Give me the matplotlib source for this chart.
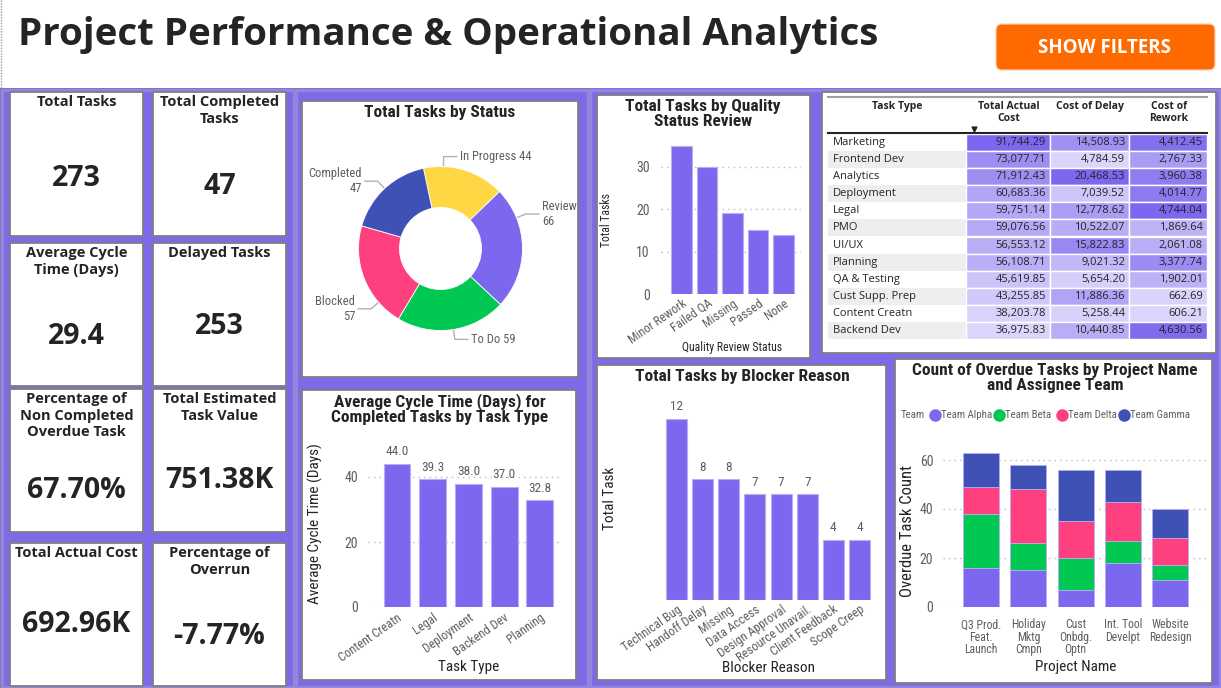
import numpy as np
import matplotlib
matplotlib.use('Agg')
import matplotlib.pyplot as plt
from matplotlib.patches import Rectangle, FancyBboxPatch
from matplotlib.colors import LinearSegmentedColormap, Normalize

W, H = 1221, 688

# ---------------- data ----------------
kpi_titles = ['Total Tasks', 'Total Completed\nTasks', 'Average Cycle\nTime (Days)', 'Delayed Tasks',
              'Percentage of\nNon Completed\nOverdue Task', 'Total Estimated\nTask Value',
              'Total Actual Cost', 'Percentage of\nOverrun']
kpi_values = ['273', '47', '29.4', '253', '67.70%', '751.38K', '692.96K', '-7.77%']

status_names = ['In Progress', 'Review', 'To Do', 'Blocked', 'Completed']
status_counts = [44, 66, 59, 57, 47]

quality_status = ['Minor Rework', 'Failed QA', 'Missing', 'Passed', 'None']
quality_tasks = [35, 30, 19, 15, 14]

cycle_task_types = ['Content Creatn', 'Legal', 'Deployment', 'Backend Dev', 'Planning']
cycle_days = [44.0, 39.3, 38.0, 37.0, 32.8]

blocker_reasons = ['Technical Bug', 'Handoff Delay', 'Missing', 'Data Access', 'Design Approval',
                   'Resource Unavail.', 'Client Feedback', 'Scope Creep']
blocker_tasks = [12, 8, 8, 7, 7, 7, 4, 4]

projects = ['Q3 Prod.\nFeat.\nLaunch', 'Holiday\nMktg\nCmpn', 'Cust\nOnbdg.\nOptn',
            'Int. Tool\nDevelpt', 'Website\nRedesign']
teams = ['Team Alpha', 'Team Beta', 'Team Delta', 'Team Gamma']
overdue_alpha = [16, 15, 7, 18, 11]
overdue_beta = [22, 11, 13, 9, 6]
overdue_delta = [11, 22, 15, 16, 11]
overdue_gamma = [14, 10, 21, 13, 12]

table_headers = ['Task Type', 'Total Actual\nCost', 'Cost of Delay', 'Cost of\nRework']
table_types = ['Marketing', 'Frontend Dev', 'Analytics', 'Deployment', 'Legal', 'PMO', 'UI/UX',
               'Planning', 'QA & Testing', 'Cust Supp. Prep', 'Content Creatn', 'Backend Dev']
table_actual = [91744.29, 73077.71, 71912.43, 60683.36, 59751.14, 59076.56, 56553.12,
                56108.71, 45619.85, 43255.85, 38203.78, 36975.83]
table_delay = [14508.93, 4784.59, 20468.53, 7039.52, 12778.62, 10522.07, 15822.83,
               9021.32, 5654.20, 11886.36, 5258.44, 10440.85]
table_rework = [4412.45, 2767.33, 3960.38, 4014.77, 4744.04, 1869.64, 2061.08,
                3377.74, 1902.01, 662.69, 606.21, 4630.56]

# ---------------- style ----------------
PURPLE = '#7B68EE'
GREEN = '#00C853'
PINK = '#FF407F'
NAVY = '#3F51B5'
YELLOW = '#FFD643'
DARK = '#252423'
GRAY = '#605E5C'
BAR_EDGE = '#B8AEF6'
COND = ['Roboto Condensed', 'Roboto', 'DejaVu Sans']
SEGOE = ['Open Sans', 'DejaVu Sans']
plt.rcParams['font.family'] = COND
TITLE_SIZE = 12.5

fig = plt.figure(figsize=(W / 100, H / 100), dpi=100)
fig.patch.set_facecolor('white')
bg = fig.add_axes([0, 0, 1, 1])
bg.set_xlim(0, W)
bg.set_ylim(H, 0)
bg.axis('off')


def ax_at(x0, y0, x1, y1):
    a = fig.add_axes([x0 / W, 1 - y1 / H, (x1 - x0) / W, (y1 - y0) / H])
    a.set_facecolor('none')
    a.set_zorder(2)
    return a


def card(x0, y0, x1, y1):
    bg.add_patch(Rectangle((x0, y0), x1 - x0, y1 - y0, fc='white', ec='#7F7F7F', lw=1.3, zorder=2))


def bar_style(a, grid=True):
    for s in a.spines.values():
        s.set_visible(False)
    a.tick_params(length=0, colors=GRAY, labelsize=9)
    if grid:
        a.yaxis.grid(True, ls=(0, (1, 3)), color='#BDBBB9', lw=1)
    a.set_axisbelow(True)


# header area
bg.plot([1, 1], [0, H], ls=(0, (1, 1)), color='#9a9a9a', lw=1)
title = bg.text(18, 35, 'Project Performance & Operational Analytics', fontsize=28,
                fontweight='bold', family=SEGOE, color=DARK, va='center', ha='left')
bg.add_patch(FancyBboxPatch((996, 24), 219, 46, boxstyle='round,pad=0,rounding_size=6',
                            fc='#FF6A00', ec='#FFD2B0', lw=0.8, zorder=2))
bg.text(1105, 48, 'SHOW FILTERS', color='white', fontsize=13.5, fontweight='bold',
        family=SEGOE, ha='center', va='center', zorder=3)

# purple panels
bg.add_patch(Rectangle((0, 88), W, H - 88, fc='#7C6AE6', ec='none', zorder=0))
for x0, x1 in [(1.5, 294), (296, 588), (590, 1219.5)]:
    bg.add_patch(Rectangle((x0, 89.5), x1 - x0, H - 91, fc='none', ec='#9185DC', lw=2.5, zorder=1))

# ---------------- KPI cards ----------------
kpi_cols = [(10, 143), (153, 286)]
kpi_rows = [(92, 236), (243, 386), (389, 532), (543, 686)]
value_dy = [86, 94, 93, 83, 101, 92, 82, 93]
for k, (ttl, val) in enumerate(zip(kpi_titles, kpi_values)):
    x0, x1 = kpi_cols[k % 2]
    y0, y1 = kpi_rows[k // 2]
    card(x0, y0, x1, y1)
    xc = (x0 + x1) / 2
    bg.text(xc, y0 + 3, ttl, ha='center', va='top', fontsize=10.5, fontweight='bold',
            family=SEGOE, color=DARK, linespacing=1.25, zorder=3)
    bg.text(xc, y0 + value_dy[k], val, ha='center', va='center', fontsize=20.5,
            fontweight='bold', family=SEGOE, color=DARK, zorder=3)

# ---------------- donut ----------------
card(302, 101, 578, 377)
bg.text(440, 112, 'Total Tasks by Status', ha='center', va='center', fontsize=TITLE_SIZE,
        fontweight='bold', color=DARK, zorder=3)
cx, cy, r = 440.5, 248.5, 82
axd = ax_at(cx - r, cy - r, cx + r, cy + r)
status_colors = [YELLOW, PURPLE, GREEN, PINK, NAVY]
axd.pie(status_counts, colors=status_colors, startangle=102, counterclock=False, radius=1,
        wedgeprops=dict(width=0.5, edgecolor='white', linewidth=0.6))
axd.set_xlim(-1, 1)
axd.set_ylim(-1, 1)
leader_angles = [88, 22, -81, 221, 133]
two_line = [False, True, False, True, True]
for name, cnt, ang, wrap in zip(status_names, status_counts, leader_angles, two_line):
    a = np.deg2rad(ang)
    side = 1 if np.cos(a) >= 0 else -1
    p0 = (cx + (r + 1) * np.cos(a), cy - (r + 1) * np.sin(a))
    p1 = (cx + (r + 10) * np.cos(a), cy - (r + 10) * np.sin(a))
    p2 = (p1[0] + side * 13, p1[1])
    bg.plot([p0[0], p1[0], p2[0]], [p0[1], p1[1], p2[1]], color='#B3B0AD', lw=1, zorder=3)
    lab = f'{name}\n{cnt}' if wrap else f'{name} {cnt}'
    bg.text(p2[0] + side * 3, p1[1], lab, ha='left' if side > 0 else 'right', va='center',
            fontsize=9, color=GRAY, linespacing=1.2, zorder=3)

# ---------------- quality status ----------------
card(597, 95, 810, 358)
bg.text(703, 114, 'Total Tasks by Quality\nStatus Review', ha='center', va='center',
        fontsize=TITLE_SIZE, fontweight='bold', color=DARK, linespacing=1.05, zorder=3)
axq = ax_at(661, 294 - 36 * 4.24, 801, 294)
axq.bar(range(len(quality_tasks)), quality_tasks, width=0.8, color=PURPLE, edgecolor=BAR_EDGE, lw=0.8)
axq.set_xlim(-0.8, 4.69)
axq.set_ylim(0, 36)
axq.set_yticks([0, 10, 20, 30])
bar_style(axq)
axq.tick_params(axis='y', pad=8, labelsize=10)
axq.set_xticks(range(len(quality_status)))
axq.set_xticklabels(quality_status, rotation=35, ha='right', rotation_mode='anchor')
axq.tick_params(axis='x', pad=2)
bg.text(607, 220, 'Total Tasks', rotation=90, ha='center', va='center', fontsize=8.5, color=DARK, zorder=3)
bg.text(732, 347, 'Quality Review Status', ha='center', va='center', fontsize=8.5, color=DARK, zorder=3)

# ---------------- cost table ----------------
card(822, 92, 1216, 353)
bg.plot([828, 1207], [97, 97], color='#A0A0A0', lw=1.5, zorder=3)
hdr_x = [897, 1009, 1090, 1169]
for hx, ht in zip(hdr_x, table_headers):
    bg.text(hx, 101, ht, ha='center', va='top', fontsize=7.5, fontweight='bold',
            family=SEGOE, color=DARK, linespacing=1.15, zorder=4)
bg.plot([974], [129], marker='v', ms=3.5, color=DARK, zorder=4)
bg.plot([828, 1207], [133, 133], color=DARK, lw=1.5, zorder=4)
cmap = LinearSegmentedColormap.from_list('pbi', ['#DAD5FA', PURPLE])
row_h = (339 - 134) / len(table_types)
num_cols = [(966, 1050, table_actual), (1050, 1129, table_delay), (1129, 1207, table_rework)]
for i, name in enumerate(table_types):
    y0 = 134 + i * row_h
    bg.add_patch(Rectangle((828, y0), 966 - 828, row_h, fc='white' if i % 2 == 0 else '#EEEEEE',
                           ec='none', zorder=3))
    bg.text(833, y0 + row_h / 2, name, ha='left', va='center', fontsize=8, family=SEGOE,
            color=DARK, zorder=4)
    for x0, x1, vals in num_cols:
        norm = Normalize(min(vals), max(vals))
        bg.add_patch(Rectangle((x0, y0), x1 - x0, row_h, fc=cmap(norm(vals[i])), ec='white',
                               lw=1, zorder=3))
        bg.text(x1 - 4, y0 + row_h / 2, f'{vals[i]:,.2f}', ha='right', va='center', fontsize=8,
                family=SEGOE, color=DARK, zorder=4)

# ---------------- avg cycle time ----------------
card(302, 390, 576, 680)
bg.text(440, 409, 'Average Cycle Time (Days) for\nCompleted Tasks by Task Type', ha='center',
        va='center', fontsize=TITLE_SIZE, fontweight='bold', color=DARK, linespacing=1.05, zorder=3)
axc = ax_at(368, 607 - 51 * 3.25, 562, 607)
axc.bar(range(len(cycle_days)), cycle_days, width=0.75, color=PURPLE, edgecolor=BAR_EDGE, lw=0.8)
axc.set_xlim(-0.81, 4.62)
axc.set_ylim(0, 51)
axc.set_yticks([0, 20, 40])
bar_style(axc)
axc.tick_params(axis='y', pad=7, labelsize=10)
axc.set_xticks(range(len(cycle_task_types)))
axc.set_xticklabels(cycle_task_types, rotation=35, ha='right', rotation_mode='anchor')
axc.tick_params(axis='x', pad=3)
for i, v in enumerate(cycle_days):
    axc.annotate(f'{v:.1f}', (i, v), xytext=(0, 4), textcoords='offset points', ha='center',
                 va='bottom', fontsize=9.5, color=GRAY, annotation_clip=False)
bg.text(315, 524, 'Average Cycle Time (Days)', rotation=90, ha='center', va='center',
        fontsize=11, color=DARK, zorder=3)
bg.text(469, 667, 'Task Type', ha='center', va='center', fontsize=11, color=DARK, zorder=3)

# ---------------- blocker reason ----------------
card(597, 365, 886, 680)
bg.text(742, 376, 'Total Tasks by Blocker Reason', ha='center', va='center', fontsize=TITLE_SIZE,
        fontweight='bold', color=DARK, zorder=3)
axb = ax_at(663.4, 600 - 13.5 * 15.08, 872.6, 600)
axb.bar(range(len(blocker_tasks)), blocker_tasks, width=0.8, color=PURPLE, edgecolor=BAR_EDGE, lw=0.8)
axb.set_xlim(-0.5, len(blocker_tasks) - 0.5)
axb.set_ylim(0, 13.5)
bar_style(axb, grid=False)
axb.set_yticks([])
axb.set_xticks(range(len(blocker_reasons)))
axb.set_xticklabels(blocker_reasons, rotation=35, ha='right', rotation_mode='anchor')
axb.tick_params(axis='x', pad=2)
for i, v in enumerate(blocker_tasks):
    axb.annotate(f'{v}', (i, v), xytext=(0, 4), textcoords='offset points', ha='center',
                 va='bottom', fontsize=9.5, color=GRAY, annotation_clip=False)
bg.text(610, 498, 'Total Task', rotation=90, ha='center', va='center', fontsize=11, color=DARK, zorder=3)
bg.text(768, 668, 'Blocker Reason', ha='center', va='center', fontsize=11, color=DARK, zorder=3)

# ---------------- overdue stacked ----------------
card(895, 359, 1212, 683)
bg.text(1055, 378, 'Count of Overdue Tasks by Project Name\nand Assignee Team', ha='center',
        va='center', fontsize=TITLE_SIZE, fontweight='bold', color=DARK, linespacing=1.05, zorder=3)
team_colors = [PURPLE, GREEN, PINK, NAVY]
bg.text(901, 415, 'Team', ha='left', va='center', fontsize=7.8, color=GRAY, zorder=3)
legend_x = [935, 999, 1062, 1124]
for lx, tn, tc in zip(legend_x, teams, team_colors):
    bg.plot([lx], [415], 'o', ms=8, color=tc, zorder=3)
    bg.text(lx + 6, 415, tn, ha='left', va='center', fontsize=7.8, color=GRAY, zorder=3)
axo = ax_at(943, 607 - 68 * 2.45, 1207, 607)
bottom = np.zeros(len(projects))
for vals, tc in zip([overdue_alpha, overdue_beta, overdue_delta, overdue_gamma], team_colors):
    axo.bar(range(len(projects)), vals, bottom=bottom, width=0.76, color=tc, edgecolor=BAR_EDGE, lw=0.6)
    bottom += np.array(vals)
axo.set_xlim(-0.805, 4.78)
axo.set_ylim(0, 68)
axo.set_yticks([0, 20, 40, 60])
bar_style(axo)
axo.tick_params(axis='y', pad=7, labelsize=10)
axo.set_xticks(range(len(projects)))
axo.set_xticklabels(projects, linespacing=0.95)
axo.tick_params(axis='x', pad=8, labelsize=8.5)
bg.text(908, 531, 'Overdue Task Count', rotation=90, ha='center', va='center', fontsize=12,
        color=DARK, zorder=3)
bg.text(1076, 667, 'Project Name', ha='center', va='center', fontsize=11, color=DARK, zorder=3)

# fit the main title to its width in the reference
fig.canvas.draw()
w = title.get_window_extent(fig.canvas.get_renderer()).width
title.set_fontsize(title.get_fontsize() * 858 / w)

fig.savefig('out.png', dpi=100)
